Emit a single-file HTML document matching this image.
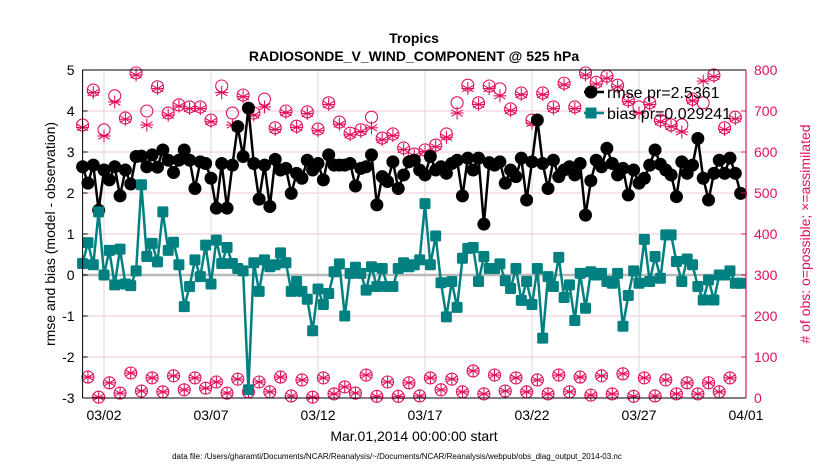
<!DOCTYPE html>
<html><head><meta charset="utf-8"><style>
html,body{margin:0;padding:0;background:#fff;}
svg{display:block;font-family:"Liberation Sans",sans-serif;}
</style></head><body>
<svg id="chart" width="830" height="470" viewBox="0 0 830 470">
<rect width="830" height="470" fill="#fff"/>
<g id="grid"></g>
<g id="marks"></g>
<g id="axes"></g>
<text x="414" y="43" text-anchor="middle" font-size="14" font-weight="bold">Tropics</text>
<text x="414" y="61" text-anchor="middle" font-size="14" font-weight="bold">RADIOSONDE_V_WIND_COMPONENT @ 525 hPa</text>
<text transform="translate(55,234) rotate(-90)" text-anchor="middle" font-size="14">rmse and bias (model - observation)</text>
<text transform="translate(810,234) rotate(-90)" text-anchor="middle" font-size="14" fill="#e0115f"># of obs: o=possible; ×=assimilated</text>
<text x="414" y="441" text-anchor="middle" font-size="14">Mar.01,2014 00:00:00 start</text>
<text x="397" y="459" text-anchor="middle" font-size="8">data file: /Users/gharamti/Documents/NCAR/Reanalysis/~/Documents/NCAR/Reanalysis/webpub/obs_diag_output_2014-03.nc</text>
<g id="legend"></g>
</svg>
<script>
const xTickLabels = ["03/02","03/07","03/12","03/17","03/22","03/27","04/01"];
const xTickDays = [1,6,11,16,21,26,31];
const leftTicks = [-3,-2,-1,0,1,2,3,4,5];
const rightTicks = [0,100,200,300,400,500,600,700,800];
const rmse = [2.64,2.24,2.68,1.58,2.56,2.32,2.64,1.93,2.56,2.22,2.89,2.9,2.64,2.93,2.63,3.05,2.8,2.5,2.8,3.05,2.8,2.11,2.76,2.72,2.36,1.63,2.72,1.63,2.68,3.62,2.89,4.07,
2.72,1.85,2.68,1.67,2.82,2.56,2.6,1.99,2.48,2.36,2.8,2.56,2.72,2.32,2.93,2.68,2.68,2.68,2.72,2.17,2.6,2.64,2.93,1.71,2.4,2.28,2.76,2.11,2.44,2.76,2.8,
2.56,2.44,2.89,2.56,2.64,2.48,2.72,2.8,1.93,2.85,2.56,2.85,1.24,2.74,2.68,2.76,2.24,2.56,2.4,2.85,1.83,2.76,3.78,2.72,2.11,2.8,2.4,2.56,2.64,2.44,2.72,1.46,2.3,
2.8,2.64,3.09,2.72,2.44,2.6,1.95,2.56,2.24,2.36,2.68,3.05,2.7,2.56,2.44,1.91,2.76,2.48,2.68,3.33,2.36,1.83,2.48,2.8,2.48,2.85,2.48,1.99];
const bias = [0.28,0.79,0.25,1.54,0,0.6,-0.24,0.63,-0.22,-0.26,0.1,2.2,0.45,0.77,0.32,1.54,0.6,0.8,0.25,-0.77,-0.28,0.37,-0.04,0.73,-0.22,0.85,0.28,0.67,0.28,0.16,0.1,-2.8,
0.3,-0.4,0.37,0.2,0.25,0.54,0.3,-0.4,-0.16,-0.4,-0.59,-1.36,-0.34,-0.72,-0.45,0.08,0.27,-1.0,0.04,0.19,0.04,-0.37,0.2,-0.28,0.16,-0.28,-0.28,0.16,0.3,0.2,0.25,0.37,
1.74,0.25,0.95,-0.19,-1.02,-0.16,-0.79,0.41,0.65,0.67,-0.16,0.45,0.16,0.16,0.27,-0.14,-0.33,0.16,-0.62,-0.16,-0.72,0.16,-1.54,-0.04,-0.28,0.43,-0.55,-0.24,-1.11,0.04,-0.81,0.08,0.0,
0.04,-0.16,-0.2,0.04,-1.25,-0.5,0.1,-0.2,0.87,-0.16,0.45,-0.08,0.98,0.98,0.33,-0.16,0.39,0.25,-0.28,-0.61,-0.12,-0.61,0,0,0.1,-0.2,-0.2];
const possibleHigh = [666,751,654,737,683,793,700,759,695,715,710,710,678,761,695,739,
695,729,659,700,663,698,656,720,673,646,654,685,634,644,610,595,
605,617,644,720,763,720,761,754,705,744,678,744,710,768,710,793,
770,785,763,727,710,720,678,666,666,729,720,788,659,685];
const assimHigh = [660,745,639,722,680,788,666,755,690,712,706,706,674,745,666,735,
690,710,655,696,660,694,652,716,668,642,650,659,630,640,606,591,
601,613,636,695,755,716,755,737,701,740,670,740,706,764,706,788,
766,780,759,723,695,716,674,662,649,725,773,784,655,681];
const obsLow = [51,2,37,12,61,17,49,15,54,20,49,24,39,12,46,15,
39,15,51,5,44,2,49,10,27,12,56,4,39,4,37,5,
49,20,46,15,66,10,56,17,49,15,44,10,56,15,51,
7,54,10,59,4,49,5,44,10,37,10,37,15,49];

const X0=82.6, X1=746, Y0=70, Y1=398;
const xScale = d => X0 + d*(X1-X0)/31;
const yL = v => Y0 + (5-v)*(Y1-Y0)/8;
const yR = v => Y1 - v*(Y1-Y0)/800;
const NS="http://www.w3.org/2000/svg";
function mk(tag, attrs, parent){const e=document.createElementNS(NS,tag);for(const k in attrs)e.setAttribute(k,attrs[k]);parent.appendChild(e);return e;}
const grid=document.getElementById('grid'), marks=document.getElementById('marks'), axes=document.getElementById('axes'), legend=document.getElementById('legend');
const PINK="#e0115f", TEAL="#008080";

leftTicks.forEach(t=>{
  const y=yL(t);
  const g=mk('line',{x1:X0,x2:X1,y1:y,y2:y,stroke:'#f5c6d8','stroke-width':1},grid);
  
  
  const tk=mk('line',{x1:X0,x2:X0+5,y1:y,y2:y,stroke:'#000'},axes);
  
  
  const tx=mk('text',{x:X0-8,y:y+5,'text-anchor':'end','font-size':14},axes);
  tx.textContent=t;
  
  
});
rightTicks.forEach(t=>{
  const y=yR(t);
  const tk=mk('line',{x1:X1-5,x2:X1,y1:y,y2:y,stroke:PINK},axes);
  
  
  const tx=mk('text',{x:X1+8,y:y+5,'text-anchor':'start','font-size':14,fill:PINK},axes);
  tx.textContent=t;
  
  
});
xTickDays.forEach((d,i)=>{
  const x=xScale(d);
  const g=mk('line',{x1:x,x2:x,y1:Y0,y2:Y1,stroke:'#d8d8d8','stroke-width':1},grid);
  
  
  const tx=mk('text',{x:x,y:420,'text-anchor':'middle','font-size':14},axes);
  tx.textContent=xTickLabels[i];
  
  
});
const zl=mk('line',{x1:X0,x2:X1,y1:yL(0),y2:yL(0),stroke:'#b8b8b8','stroke-width':2.5},grid);



const nObs = possibleHigh.length + obsLow.length;
function obsVal(i, arrH){return i%2===0 ? arrH[i/2] : obsLow[(i-1)/2];}
function asterisk(x,y,r,parent){
  const g=mk('g',{stroke:PINK,'stroke-width':1.1},parent);
  for(let a=0;a<3;a++){const an=a*Math.PI/3+Math.PI/2;mk('line',{x1:x-r*Math.cos(an),y1:y-r*Math.sin(an),x2:x+r*Math.cos(an),y2:y+r*Math.sin(an)},g);}
  mk('line',{x1:x-r,y1:y,x2:x+r,y2:y},g);
  return g;
}
for(let i=0;i<nObs;i++){
  const x=xScale(i*0.25);
  const p=obsVal(i,possibleHigh), a=obsVal(i,assimHigh);
  if(p===undefined) continue;
  const c=mk('circle',{cx:x,cy:yR(p),r:6,fill:'none',stroke:PINK,'stroke-width':1.1},marks);
  
  
  const s=asterisk(x,yR(a),6.5,marks);
  
  
}
const rPath=rmse.map((v,i)=>(i?'L':'M')+xScale(i*0.25).toFixed(1)+','+yL(v).toFixed(1)).join(' ');
const rl=mk('path',{d:rPath,fill:'none',stroke:'#000','stroke-width':2.5},marks);


rmse.forEach((v,i)=>{
  const c=mk('circle',{cx:xScale(i*0.25),cy:yL(v),r:6.5,fill:'#000'},marks);
  
  
});
const bPath=bias.map((v,i)=>(i?'L':'M')+xScale(i*0.25).toFixed(1)+','+yL(v).toFixed(1)).join(' ');
const bl=mk('path',{d:bPath,fill:'none',stroke:TEAL,'stroke-width':2.5},marks);


bias.forEach((v,i)=>{
  const s=mk('rect',{x:xScale(i*0.25)-5.5,y:yL(v)-5.5,width:11,height:11,rx:1.5,fill:TEAL},marks);
  
  
});
const fr=mk('path',{d:`M${X0},${Y1} L${X0},${Y0} L${X1},${Y0}`,fill:'none',stroke:'#000','stroke-width':1},axes);


const bx=mk('line',{x1:X0,x2:X1,y1:Y1,y2:Y1,stroke:'#000'},axes);


const ra=mk('line',{x1:X1,x2:X1,y1:Y0,y2:Y1,stroke:PINK,'stroke-width':1.2},axes);


const l1=mk('line',{x1:584,x2:604,y1:92,y2:92,stroke:'#000','stroke-width':2.5},legend);


const lc=mk('circle',{cx:591,cy:92,r:6.5,fill:'#000'},legend);


const t1=mk('text',{x:607,y:98,'font-size':16},legend);
t1.textContent='rmse pr=2.5361';


const l2=mk('line',{x1:584,x2:604,y1:113,y2:113,stroke:TEAL,'stroke-width':2.5},legend);


const ls=mk('rect',{x:585.5,y:107.5,width:11,height:11,fill:TEAL},legend);


const t2=mk('text',{x:607,y:119,'font-size':16},legend);
t2.textContent='bias pr=0.029241';


</script>
</body></html>
